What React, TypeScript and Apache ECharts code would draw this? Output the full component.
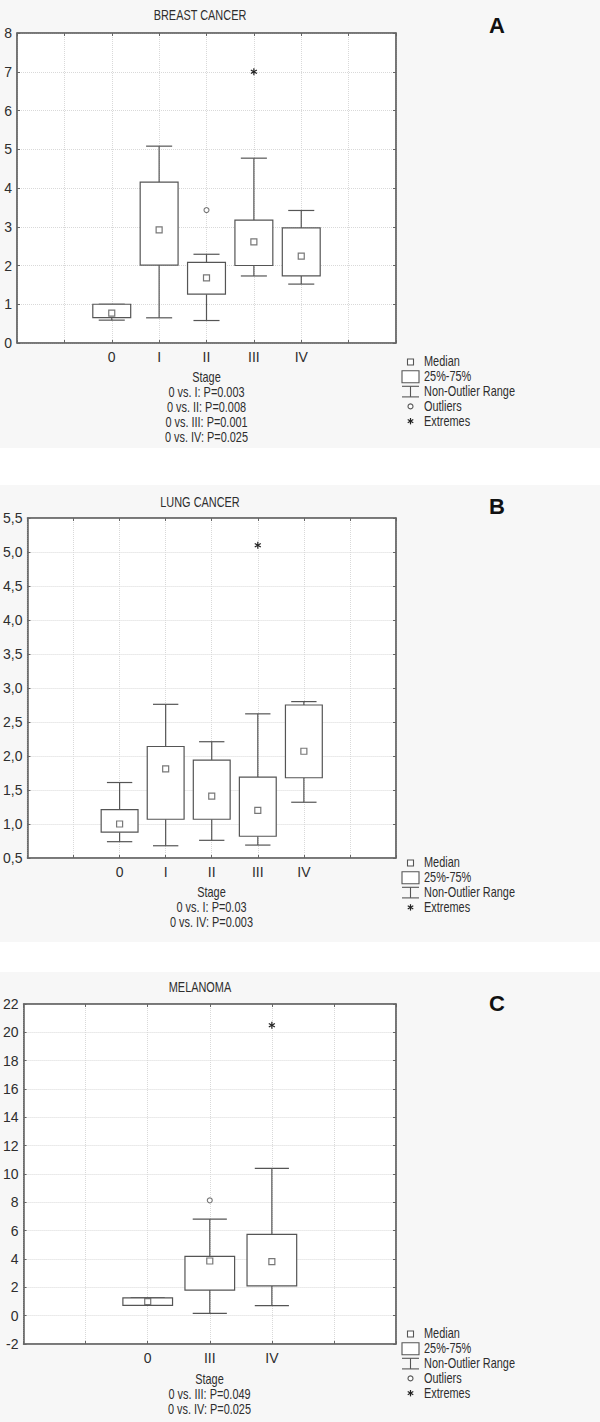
import React, { useEffect, useRef } from "react";
import * as echarts from "echarts";

// ---------- DATA ----------
const stagesA = ["0", "I", "II", "III", "IV"];
const minA = [0.59, 0.65, 0.58, 1.73, 1.52];
const q1A = [0.655, 2.01, 1.26, 2.0, 1.73];
const medA = [0.77, 2.92, 1.68, 2.61, 2.24];
const q3A = [1.0, 4.15, 2.08, 3.17, 2.97];
const maxA = [1.0, 5.08, 2.29, 4.77, 3.42];
const outliersA: [string, number][] = [["II", 3.43]];
const extremesA: [string, number][] = [["III", 7.0]];
const notesA = ["Stage", "0 vs. I: P=0.003", "0 vs. II: P=0.008", "0 vs. III: P=0.001", "0 vs. IV: P=0.025"];
const legendA = ["Median", "25%-75%", "Non-Outlier Range", "Outliers", "Extremes"];

const stagesB = ["0", "I", "II", "III", "IV"];
const minB = [0.74, 0.68, 0.76, 0.69, 1.32];
const q1B = [0.88, 1.07, 1.07, 0.82, 1.68];
const medB = [1.0, 1.81, 1.41, 1.2, 2.07];
const q3B = [1.21, 2.14, 1.94, 1.69, 2.75];
const maxB = [1.61, 2.76, 2.21, 2.62, 2.8];
const outliersB: [string, number][] = [];
const extremesB: [string, number][] = [["III", 5.1]];
const notesB = ["Stage", "0 vs. I: P=0.03", "0 vs. IV: P=0.003"];
const legendB = ["Median", "25%-75%", "Non-Outlier Range", "Extremes"];

const stagesC = ["0", "III", "IV"];
const minC = [0.73, 0.16, 0.71];
const q1C = [0.73, 1.81, 2.1];
const medC = [0.99, 3.86, 3.81];
const q3C = [1.25, 4.19, 5.74];
const maxC = [1.25, 6.82, 10.4];
const outliersC: [string, number][] = [["III", 8.14]];
const extremesC: [string, number][] = [["IV", 20.5]];
const notesC = ["Stage", "0 vs. III: P=0.049", "0 vs. IV: P=0.025"];
const legendC = ["Median", "25%-75%", "Non-Outlier Range", "Outliers", "Extremes"];

const titles = ["BREAST CANCER", "LUNG CANCER", "MELANOMA"];
const letters = ["A", "B", "C"];
const yTicksA = { min: 0, max: 8, interval: 1 };
const yTicksB = { min: 0.5, max: 5.5, interval: 0.5 };
const yTicksC = { min: -2, max: 22, interval: 2 };

// ---------- STYLE / LAYOUT ----------
const FONT = "'Liberation Sans', Arial, sans-serif";
const FS = 14;
const SX = 0.78; // horizontal condensing of graphic texts (narrow font look)
const LINE = "#555";
const FRAME = "#666";
const TXT = "#2e2e2e";
const BOX_W = 0.8;
const CAP_W = 0.55;

const layouts = [
  { left: 17, top: 33, height: 310, titleY: 16, letterY: 25, stageY: 378, legendY: 362 },
  { left: 27, top: 518, height: 340, titleY: 503, letterY: 506, stageY: 893, legendY: 863 },
  { left: 23, top: 1004, height: 340, titleY: 988, letterY: 1003, stageY: 1380, legendY: 1334 },
];
const RIGHT_EDGE = 396;

const panels = [
  { stages: stagesA, min: minA, q1: q1A, med: medA, q3: q3A, max: maxA, outliers: outliersA, extremes: extremesA, notes: notesA, legend: legendA, y: yTicksA, fmt: (v: number) => String(v) },
  { stages: stagesB, min: minB, q1: q1B, med: medB, q3: q3B, max: maxB, outliers: outliersB, extremes: extremesB, notes: notesB, legend: legendB, y: yTicksB, fmt: (v: number) => v.toFixed(1).replace(".", ",") },
  { stages: stagesC, min: minC, q1: q1C, med: medC, q3: q3C, max: maxC, outliers: outliersC, extremes: extremesC, notes: notesC, legend: legendC, y: yTicksC, fmt: (v: number) => String(v) },
];

function asterisk(cx: number, cy: number, r: number) {
  const a = r * Math.cos(Math.PI / 6);
  const b = r * Math.sin(Math.PI / 6);
  const st = { stroke: "#222", lineWidth: 1.2 };
  return [
    { type: "line", shape: { x1: cx, y1: cy - r, x2: cx, y2: cy + r }, style: st },
    { type: "line", shape: { x1: cx - a, y1: cy - b, x2: cx + a, y2: cy + b }, style: st },
    { type: "line", shape: { x1: cx - a, y1: cy + b, x2: cx + a, y2: cy - b }, style: st },
  ];
}

function txt(text: string, x: number, y: number, align: string, extra: any = {}) {
  return {
    type: "text", x, y, scaleX: SX,
    style: { text, x: 0, y: 0, textAlign: align, textVerticalAlign: "middle", fontFamily: FONT, fontSize: FS, fill: TXT, ...extra },
  };
}

function buildOption() {
  const grid: any[] = [];
  const xAxis: any[] = [];
  const yAxis: any[] = [];
  const series: any[] = [];
  const graphic: any[] = [];

  // white gaps between the light grey panels
  graphic.push({ type: "rect", shape: { x: 0, y: 448, width: 600, height: 37 }, style: { fill: "#fff" } });
  graphic.push({ type: "rect", shape: { x: 0, y: 942, width: 600, height: 30 }, style: { fill: "#fff" } });

  panels.forEach((p, i) => {
    const L = layouts[i];
    const n = p.stages.length;
    grid.push({
      left: L.left, top: L.top, width: RIGHT_EDGE - L.left, height: L.height,
      show: true, backgroundColor: "#fff", borderColor: FRAME, borderWidth: 1,
    });
    const tick = { inside: true, length: 3, lineStyle: { color: FRAME } };
    const axLine = { onZero: false, lineStyle: { color: FRAME, width: 1.6 } };
    const split = { show: true, lineStyle: { color: "#d9d9d9", type: "dotted", width: 1 } };
    const lab = { fontFamily: FONT, fontSize: FS, color: TXT };
    xAxis.push({
      type: "value", gridIndex: i, min: 0, max: n + 3, interval: 1, position: "bottom",
      axisLine: axLine, axisTick: tick, splitLine: split,
      axisLabel: { ...lab, margin: 7, formatter: (v: number) => p.stages[v - 2] ?? "" },
    });
    xAxis.push({
      type: "value", gridIndex: i, min: 0, max: n + 3, interval: 1, position: "top",
      axisLine: axLine, axisTick: tick, splitLine: { show: false }, axisLabel: { show: false },
    });
    yAxis.push({
      type: "value", gridIndex: i, min: p.y.min, max: p.y.max, interval: p.y.interval, position: "left",
      axisLine: { show: true, ...axLine }, axisTick: { show: true, ...tick }, splitLine: split,
      axisLabel: { ...lab, margin: 5, formatter: p.fmt },
    });
    yAxis.push({
      type: "value", gridIndex: i, min: p.y.min, max: p.y.max, interval: p.y.interval, position: "right",
      axisLine: { show: true, ...axLine }, axisTick: { show: true, ...tick }, splitLine: { show: false }, axisLabel: { show: false },
    });
    const xi = i * 2;
    const yi = i * 2;

    const boxData = p.stages.map((_, k) => [k + 2, p.min[k], p.q1[k], p.med[k], p.q3[k], p.max[k]]);
    series.push({
      type: "custom", xAxisIndex: xi, yAxisIndex: yi, z: 2, data: boxData,
      renderItem: (params: any, api: any) => {
        const x = api.value(0);
        const lo = api.coord([x, api.value(1)]);
        const q1 = api.coord([x, api.value(2)]);
        const q3 = api.coord([x, api.value(4)]);
        const hi = api.coord([x, api.value(5)]);
        const bw = api.size([BOX_W, 0])[0];
        const cw = api.size([CAP_W, 0])[0];
        const cx = q1[0];
        const ls = { stroke: LINE, lineWidth: 1.2, fill: null };
        return {
          type: "group",
          children: [
            { type: "line", shape: { x1: cx, y1: hi[1], x2: cx, y2: q3[1] }, style: ls },
            { type: "line", shape: { x1: cx - cw / 2, y1: hi[1], x2: cx + cw / 2, y2: hi[1] }, style: ls },
            { type: "line", shape: { x1: cx, y1: q1[1], x2: cx, y2: lo[1] }, style: ls },
            { type: "line", shape: { x1: cx - cw / 2, y1: lo[1], x2: cx + cw / 2, y2: lo[1] }, style: ls },
            { type: "rect", shape: { x: cx - bw / 2, y: q3[1], width: bw, height: q1[1] - q3[1] }, style: { stroke: LINE, fill: "#fff", lineWidth: 1.2 } },
          ],
        };
      },
    });
    series.push({
      type: "scatter", xAxisIndex: xi, yAxisIndex: yi, z: 3, symbol: "rect", symbolSize: 6,
      itemStyle: { color: "#fff", borderColor: LINE, borderWidth: 1.2 },
      data: p.stages.map((_, k) => [k + 2, p.med[k]]),
    });
    if (p.outliers.length) {
      series.push({
        type: "scatter", xAxisIndex: xi, yAxisIndex: yi, z: 3, symbol: "circle", symbolSize: 5,
        itemStyle: { color: "#fff", borderColor: LINE, borderWidth: 1.1 },
        data: p.outliers.map(([s, v]) => [p.stages.indexOf(s) + 2, v]),
      });
    }
    if (p.extremes.length) {
      series.push({
        type: "custom", xAxisIndex: xi, yAxisIndex: yi, z: 3,
        data: p.extremes.map(([s, v]) => [p.stages.indexOf(s) + 2, v]),
        renderItem: (params: any, api: any) => {
          const c = api.coord([api.value(0), api.value(1)]);
          return { type: "group", children: asterisk(c[0], c[1], 3.5) };
        },
      });
    }

    // title and panel letter
    graphic.push(txt(titles[i], 200, L.titleY, "center"));
    graphic.push({
      type: "text",
      style: { text: letters[i], x: 497, y: L.letterY, textAlign: "center", textVerticalAlign: "middle", fontFamily: FONT, fontWeight: "bold", fontSize: 22, fill: "#111" },
    });
    // stage + p-values
    const cxPlot = (L.left + RIGHT_EDGE) / 2;
    p.notes.forEach((t, k) => graphic.push(txt(t, cxPlot, L.stageY + k * 14.8, "center")));
    // legend
    const sx = 410.5;
    p.legend.forEach((t, k) => {
      const cy = L.legendY + k * 14.8;
      graphic.push(txt(t, 424, cy, "left"));
      const st = { stroke: LINE, lineWidth: 1.1, fill: "none" };
      if (t === "Median") {
        graphic.push({ type: "rect", shape: { x: sx - 3, y: cy - 3, width: 6, height: 6 }, style: { stroke: LINE, lineWidth: 1.1, fill: "#fff" } });
      } else if (t === "25%-75%") {
        graphic.push({ type: "rect", shape: { x: 402, y: cy - 6, width: 17, height: 12 }, style: { stroke: LINE, lineWidth: 1.1, fill: "#fff" } });
      } else if (t === "Non-Outlier Range") {
        graphic.push({ type: "line", shape: { x1: 402, y1: cy - 5.3, x2: 419, y2: cy - 5.3 }, style: st });
        graphic.push({ type: "line", shape: { x1: 402, y1: cy + 5.3, x2: 419, y2: cy + 5.3 }, style: st });
        graphic.push({ type: "line", shape: { x1: sx, y1: cy - 5.3, x2: sx, y2: cy + 5.3 }, style: st });
      } else if (t === "Outliers") {
        graphic.push({ type: "circle", shape: { cx: sx, cy, r: 2.5 }, style: { stroke: LINE, lineWidth: 1.1, fill: "#fff" } });
      } else if (t === "Extremes") {
        asterisk(sx, cy, 3.2).forEach((e) => graphic.push(e));
      }
    });
  });

  return {
    animation: false,
    backgroundColor: "#f7f7f7",
    grid, xAxis, yAxis, series, graphic,
  };
}

export default function App() {
  const ref = useRef<HTMLDivElement>(null);
  useEffect(() => {
    document.body.style.margin = "0";
    const chart = echarts.init(ref.current!, undefined, { renderer: "svg" });
    chart.setOption(buildOption() as any);
    return () => chart.dispose();
  }, []);
  return <div ref={ref} style={{ width: 600, height: 1422 }} />;
}
